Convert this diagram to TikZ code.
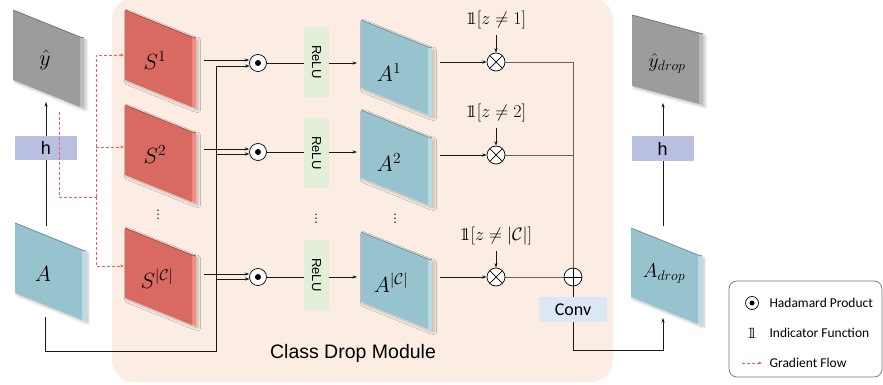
\RequirePackage{fix-cm}
\documentclass[tikz,border=0pt]{standalone}
\usepackage{fontspec}
\usetikzlibrary{arrows.meta,shadows.blur,calc}
\newfontfamily\arialf{Liberation Sans}
\newfontfamily\calib{Carlito}
\newcommand{\dsone}{\mathrm{1}\mkern-5.6mu\mathrm{1}}
\definecolor{peach}{HTML}{FCEDE4}
\definecolor{redF}{HTML}{D96A62}
\definecolor{redS}{HTML}{EE8E85}
\definecolor{tealF}{HTML}{97C3CF}
\definecolor{tealS}{HTML}{BADDE5}
\definecolor{grayF}{HTML}{9C9C9C}
\definecolor{grayS}{HTML}{BDBDBD}
\definecolor{hcol}{HTML}{B8BFE1}
\definecolor{relucol}{HTML}{E3EFD9}
\definecolor{convcol}{HTML}{DBE7F4}
\definecolor{gradred}{HTML}{EC625A}
\definecolor{linebr}{HTML}{6E6058}
% #1 name, #2 x, #3 y, #4 skew, #5 front, #6 side, #7 label, #8 height, #9 label position
\newcommand{\slab}[9]{%
  \path[fill=white, blur shadow={shadow xshift=2pt, shadow yshift=-2pt, shadow blur radius=2.5pt, shadow opacity=25}]
    (#2,#3) -- ({#2+67},{#3+#4}) -- ({#2+71},{#3+#4+1}) -- ({#2+71},{#3+#4+#8+1}) -- ({#2+67},{#3+#4+#8}) -- (#2,{#3+#8}) -- cycle;
  \fill[#6] ({#2+67},{#3+#4}) -- ({#2+71},{#3+#4+1}) -- ({#2+71},{#3+#4+#8+1}) -- ({#2+67},{#3+#4+#8}) -- cycle;
  \fill[#5] (#2,#3) -- ({#2+67},{#3+#4}) -- ({#2+67},{#3+#4+#8}) -- (#2,{#3+#8}) -- cycle;
  \draw[#5!75!black, line width=0.8pt] (#2,#3) -- ({#2+67},{#3+#4}) -- ({#2+71},{#3+#4+1});
  \node[font=\fontsize{22}{26}\selectfont] (#1) at #9 {#7};
}
\begin{document}
\begin{tikzpicture}[x=1pt,y=-1pt,
  arr/.style={-{Stealth[length=4.5pt,width=3.2pt]}, line width=0.7pt, black!90},
  ln/.style={line width=0.7pt, black!90},
  ln2/.style={line width=0.8pt, linebr},
  grad/.style={gradred, line width=0.8pt, dash pattern=on 3pt off 2pt, -{Stealth[length=4pt,width=3pt]}},
  hada/.style={circle, draw, line width=0.7pt, fill=white, minimum size=17pt, inner sep=0pt,
     path picture={\fill[black] (path picture bounding box.center) circle (3pt);}},
  otimes/.style={circle, draw, line width=0.7pt, fill=white, minimum size=18pt, inner sep=0pt,
     path picture={\draw[line width=0.7pt] (path picture bounding box.north west) -- (path picture bounding box.south east)
        (path picture bounding box.north east) -- (path picture bounding box.south west);}},
  oplus/.style={circle, draw, line width=0.7pt, fill=white, minimum size=18pt, inner sep=0pt,
     path picture={\draw[line width=0.7pt] (path picture bounding box.north) -- (path picture bounding box.south)
        (path picture bounding box.east) -- (path picture bounding box.west);}},
  relubox/.style={fill=relucol, minimum width=25pt, minimum height=70pt, inner sep=0pt, font=\arialf\fontsize{13}{15}\selectfont},
  hbox/.style={fill=hcol, minimum width=62pt, minimum height=24pt, inner sep=0pt, font=\arialf\fontsize{18}{20}\selectfont},
  indic/.style={font=\fontsize{18}{21}\selectfont},
  legtext/.style={anchor=west, font=\calib\fontsize{13.5}{16}\selectfont}
]
\useasboundingbox (0,0) rectangle (883,385);
% module background
\fill[peach, rounded corners=22pt] (112,-2) rectangle (613,382);

% slabs
\slab{yhat}{13}{10}{27}{grayF}{grayS}{$\hat{y}$}{70}{(45,60)}
\slab{A}{15}{223}{27}{tealF}{tealS}{$A$}{70}{(43,274)}
\slab{S1}{125}{10}{27}{redF}{redS}{$S^1$}{70}{(155,61)}
\slab{S2}{125}{105}{27}{redF}{redS}{$S^2$}{70}{(155,155)}
\slab{S3}{125}{228}{27}{redF}{redS}{$S^{|\mathcal{C}|}$}{70}{(157,279)}
\slab{A1}{361}{20}{27}{tealF}{tealS}{$A^1$}{68}{(389,73)}
\slab{A2}{361}{110}{27}{tealF}{tealS}{$A^2$}{68}{(389,163)}
\slab{A3}{361}{232}{27}{tealF}{tealS}{$A^{|\mathcal{C}|}$}{70}{(391,283)}
\slab{Adrop}{631}{228}{27}{tealF}{tealS}{\fontsize{20}{24}\selectfont$A_{drop}$}{69}{(664,274)}
\slab{ydrop}{632}{15}{18}{grayF}{grayS}{\fontsize{20}{24}\selectfont$\hat{y}_{drop}$}{71}{(667,63)}

% left: A -> h -> yhat
\coordinate (Atop) at (46,226);
\coordinate (yhatb) at (46,102);
\draw[arr] (Atop) -- (yhatb);
\node[hbox] (hL) at (46,148) {h};

% gradient flow
\coordinate (g0) at (59,112);
\coordinate (g2) at (96,197);
\coordinate (s1in) at (124,55);
\coordinate (s2in) at (124,147);
\coordinate (s3in) at (124,266);
\coordinate (g3) at (96,147);
\draw[grad, -] (g0) |- (g2);
\draw[grad] (g2) |- (s1in);
\draw[grad] (g3) -- (s2in);
\draw[grad] (g2) |- (s3in);

% hadamard nodes
\node[hada] (h1) at (258,63) {};
\node[hada] (h2) at (258,152) {};
\node[hada] (h3) at (258,277) {};

% S -> hadamard
\coordinate (s1o) at (204,60);
\coordinate (s2o) at (204,149);
\coordinate (s3o) at (204,274);
\draw[arr] (s1o) -- (s1o -| h1.west);
\draw[arr] (s2o) -- (s2o -| h2.west);
\draw[arr] (s3o) -- (s3o -| h3.west);

% bus from A
\coordinate (Abot) at (45,317);
\coordinate (busb) at (216,351);
\coordinate (bus1) at (216,66);
\coordinate (bus2) at (216,154);
\coordinate (bus3) at (216,279);
\draw[ln] (Abot) |- (busb) -- (bus1);
\draw[arr] (bus1) -- ($(bus1 -| h1.west)+(0.6,0)$);
\draw[arr] (bus2) -- ($(bus2 -| h2.west)+(0.3,0)$);
\draw[arr] (bus3) -- ($(bus3 -| h3.west)+(0.3,0)$);

% ReLU
\node[relubox] (r1) at (316.5,62) {\rotatebox{-90}{ReLU}};
\node[relubox] (r2) at (316.5,153) {\rotatebox{-90}{ReLU}};
\node[relubox] (r3) at (316.5,275) {\rotatebox{-90}{ReLU}};
\draw[ln] (h1) -- (h1 -| r1.west);
\draw[ln] (h2) -- (h2 -| r2.west);
\draw[ln] (h3) -- (h3 -| r3.west);
\coordinate (a1in) at (357,63);
\coordinate (a2in) at (357,152);
\coordinate (a3in) at (357,277);
\draw[arr] (a1in -| r1.east) -- (a1in);
\draw[arr] (a2in -| r2.east) -- (a2in);
\draw[arr] (a3in -| r3.east) -- (a3in);

% otimes
\node[otimes] (o1) at (496,62) {};
\node[otimes] (o2) at (496,155) {};
\node[otimes] (o3) at (496,277) {};
\coordinate (a1o) at (440,62);
\coordinate (a2o) at (440,155);
\coordinate (a3o) at (440,277);
\draw[arr] (a1o) -- (o1);
\draw[arr] (a2o) -- (o2);
\draw[arr] (a3o) -- (o3);
\node[indic] (i1) at (496,20) {$\dsone[z\neq 1]$};
\node[indic] (i2) at (496,113) {$\dsone[z\neq 2]$};
\node[indic] (i3) at (496,236) {$\dsone[z\neq |\mathcal{C}|]$};
\draw[arr] ([yshift=-2pt]i1.south) -- (o1.north);
\draw[arr] ([yshift=-2pt]i2.south) -- (o2.north);
\draw[arr] ([yshift=-2pt]i3.south) -- (o3.north);

% oplus and conv
\node[oplus] (op) at (573,277) {};
\draw[ln2] (o1) -| (op);
\draw[ln2] (o2) -- (o2 -| op);
\draw[ln2] (o3) -- (op);
\coordinate (cb) at (663,350);
\coordinate (Adropb) at (663,318);
\draw[arr] (op) |- (cb) -- (Adropb);
\node[fill=convcol, minimum width=68pt, minimum height=25pt, inner sep=0pt, font=\calib\fontsize{18}{20}\selectfont] (conv) at (573,309.5) {Conv};

% right: Adrop -> h -> ydrop
\coordinate (Adropt) at (663,226);
\coordinate (ydropb) at (663,103);
\draw[arr] (Adropt) -- (ydropb);
\node[hbox] (hR) at (662.5,148.5) {h};

% dots
\node[font=\fontsize{18}{20}\selectfont] (d1) at (158,212) {$\vdots$};
\node[font=\fontsize{18}{20}\selectfont] (d2) at (316,216) {$\vdots$};
\node[font=\fontsize{18}{20}\selectfont] (d3) at (395,216) {$\vdots$};

% module label
\node[font=\arialf\fontsize{19.5}{22}\selectfont] (cdm) at (353,353) {Class Drop Module};

% legend
\draw[black!55, line width=0.7pt, rounded corners=8pt] (729,281) rectangle (882,377);
\node[hada, minimum size=13pt, path picture={\fill[black] (path picture bounding box.center) circle (2.5pt);}] (lh) at (752,303) {};
\node[font=\fontsize{16}{18}\selectfont] (li) at (752,333) {$\dsone$};
\coordinate (lg0) at (742,363);
\coordinate (lg1) at (762,363);
\draw[grad, line width=0.7pt] (lg0) -- (lg1);
\node[legtext] (lt1) at (766,303) {Hadamard Product};
\node[legtext] (lt2) at (766,333) {Indicator Function};
\node[legtext] (lt3) at (766,363) {Gradient Flow};
\end{tikzpicture}
\end{document}
